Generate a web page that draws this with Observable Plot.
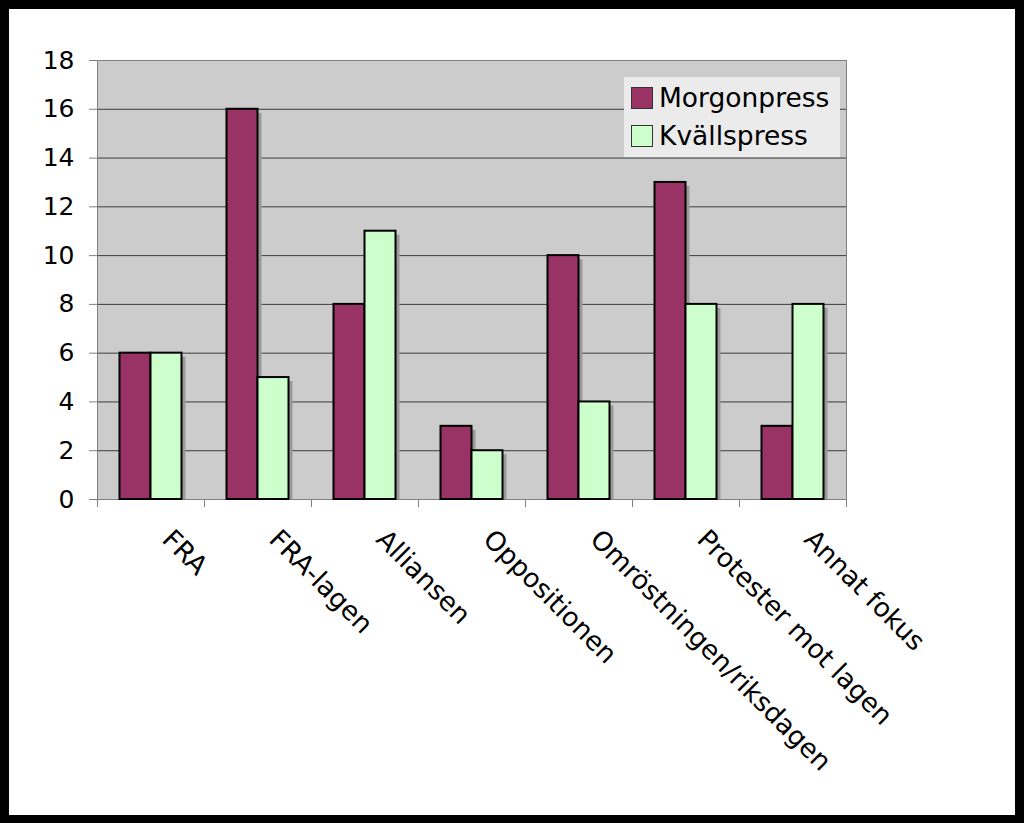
<!DOCTYPE html>
<html>
<head>
<meta charset="utf-8">
<script src="https://cdn.jsdelivr.net/npm/d3@7"></script>
<script src="https://cdn.jsdelivr.net/npm/@observablehq/plot@0.6"></script>
<style>
  html, body { margin: 0; padding: 0; background: #fff; }
  #wrap {
    position: relative; width: 1024px; height: 823px; box-sizing: border-box;
    border-style: solid; border-color: #000; border-width: 9px 9px 8px 9px; background: #fff;
    font-family: "DejaVu Sans", Verdana, sans-serif;
  }
  #legend {
    position: absolute; left: 615px; top: 68px; width: 216px; height: 80px;
    background: #ebebeb; box-sizing: border-box; padding-top: 2px;
  }
  .item { display: flex; align-items: center; height: 38px; }
  .sw { width: 20px; height: 20px; border: 1px solid #333; margin-left: 7px; margin-right: 6px; }
  .lab { font-size: 26.5px; color: #000; line-height: 38px; }
</style>
</head>
<body>
<div id="wrap"><div id="chart"></div><div id="legend"></div></div>
<script>
const categories = ["FRA", "FRA-lagen", "Alliansen", "Oppositionen", "Omröstningen/riksdagen", "Protester mot lagen", "Annat fokus"];
const morgonpress = [6, 16, 8, 3, 10, 13, 3];
const kvallspress = [6, 5, 11, 2, 4, 8, 8];
const seriesNames = ["Morgonpress", "Kvällspress"];
const seriesColors = ["#993366", "#CCFFCC"];
const yTicks = [0, 2, 4, 6, 8, 10, 12, 14, 16, 18];

const rows = categories.map((c, i) => ({category: c, morgon: morgonpress[i], kvall: kvallspress[i]}));

const barA = {insetLeft: 22.5, insetRight: 53.5};
const barB = {insetLeft: 53.5, insetRight: 22.5};

const chart = Plot.plot({
  width: 1006,
  height: 806,
  marginLeft: 88,
  marginRight: 169,
  marginTop: 51,
  marginBottom: 316,
  style: {fontFamily: "'DejaVu Sans', Verdana, sans-serif", fontSize: "25px", background: "transparent", color: "#000"},
  x: {domain: categories, padding: 0, axis: null},
  y: {domain: [0, 18], axis: null},
  marks: [
    Plot.frame({fill: "#cccccc"}),
    Plot.ruleY(yTicks, {stroke: "#3c3c3c", strokeWidth: 1}),
    Plot.frame({stroke: "#808080"}),
    Plot.barY(rows, {x: "category", y: "morgon", fill: "#999999", ...barA, insetTop: 4, dx: 4}),
    Plot.barY(rows, {x: "category", y: "kvall", fill: "#999999", ...barB, insetTop: 4, dx: 4}),
    Plot.barY(rows, {x: "category", y: "morgon", fill: seriesColors[0], stroke: "#000", strokeWidth: 2, ...barA}),
    Plot.barY(rows, {x: "category", y: "kvall", fill: seriesColors[1], stroke: "#000", strokeWidth: 2, ...barB}),
    Plot.axisY({ticks: yTicks, tickSize: 8, tickPadding: 15, fontSize: 25, stroke: "#808080", fill: "#000", label: null, tickFormat: d => String(d)}),
    Plot.axisX({tickSize: 8, text: null, dx: -53.5, stroke: "#808080", label: null}),
    Plot.axisX({ticks: [categories[categories.length - 1]], tickSize: 8, text: null, dx: 53.5, stroke: "#808080", label: null}),
    Plot.text(categories, {x: d => d, frameAnchor: "bottom", rotate: 45, textAnchor: "start", lineAnchor: "top", dx: 23, dy: 28, fontSize: 26.5, fill: "#000"})
  ]
});
document.getElementById("chart").appendChild(chart);

const legend = document.getElementById("legend");
seriesNames.forEach((name, i) => {
  const item = document.createElement("div");
  item.className = "item";
  const sw = document.createElement("div");
  sw.className = "sw";
  sw.style.background = seriesColors[i];
  const lab = document.createElement("span");
  lab.className = "lab";
  lab.textContent = name;
  item.appendChild(sw);
  item.appendChild(lab);
  legend.appendChild(item);
});
</script>
</body>
</html>
